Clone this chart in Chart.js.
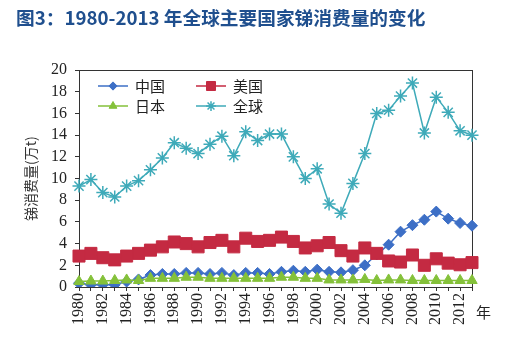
<!DOCTYPE html>
<html><head><meta charset="utf-8">
<script src="https://cdn.jsdelivr.net/npm/chart.js@4/dist/chart.umd.min.js"></script>
<style>html,body{margin:0;padding:0;background:#fff}#wrap{position:relative;width:521px;height:359px}</style>
</head><body><div id="wrap"><canvas id="c" width="521" height="359"></canvas></div>
<script>
const years = ['1980','1981','1982','1983','1984','1985','1986','1987','1988','1989','1990','1991','1992','1993','1994','1995','1996','1997','1998','1999','2000','2001','2002','2003','2004','2005','2006','2007','2008','2009','2010','2011','2012','2013'];
const china = [0.35,0.2,0.2,0.2,0.5,0.7,1.1,1.2,1.2,1.3, 1.3,1.2,1.3,1.1,1.3,1.3,1.2,1.4,1.5,1.4, 1.6,1.4,1.35,1.55,2.0,3.0,3.9,5.1,5.7,6.2, 6.95,6.3,5.9,5.65];
const usa = [2.85,3.1,2.7,2.5,2.85,3.1,3.4,3.7,4.15,4.0, 3.7,4.1,4.3,3.7,4.5,4.2,4.3,4.6,4.2,3.6, 3.8,4.1,3.35,2.85,3.6,3.1,2.4,2.3,2.95,2.0, 2.6,2.2,2.05,2.25];
const japan = [0.5,0.55,0.55,0.6,0.65,0.6,0.8,0.8,0.8,0.9, 0.9,0.8,0.8,0.8,0.8,0.8,0.8,0.9,0.9,0.8, 0.8,0.65,0.65,0.65,0.7,0.6,0.65,0.65,0.6,0.6, 0.6,0.6,0.6,0.6];
const world = [9.3,9.9,8.7,8.3,9.3,9.8,10.8,11.9,13.3,12.8, 12.3,13.15,13.9,12.1,14.3,13.5,14.1,14.1,12.0,10.0, 10.9,7.65,6.8,9.55,12.3,16.0,16.3,17.6,18.8,14.2, 17.5,16.1,14.4,14.0];
const seriesNames = ['中国','美国','日本','全球'];
const titleText = '图3：1980-2013 年全球主要国家锑消费量的变化';
const yTitle = '锑消费量(万t)';
const xUnit = '年';

const C_CN = '#3d6fc6', C_US = '#c42a42', C_JP = '#84c13a', C_W = '#3eaab9';
const AXIS = '#333';

const framePlugin = {
  id: 'frame',
  beforeDatasetsDraw(chart) {
    const a = chart.chartArea, ctx = chart.ctx;
    ctx.save();
    ctx.strokeStyle = AXIS; ctx.lineWidth = 1;
    ctx.strokeRect(Math.round(a.left) + 0.5, Math.round(a.top) + 0.5, Math.round(a.right - a.left), Math.round(a.bottom - a.top));
    ctx.restore();
  },
  afterDraw(chart) {
    const a = chart.chartArea, ctx = chart.ctx;
    ctx.save();
    ctx.fillStyle = '#222';
    ctx.font = '15px "Noto Sans CJK SC"';
    ctx.textBaseline = 'middle';
    ctx.textAlign = 'left';
    ctx.fillText(xUnit, a.right + 4, a.bottom + 25);
    const items = [
      {ds: 0, x: 98, y: 86},
      {ds: 1, x: 196, y: 86},
      {ds: 2, x: 98, y: 106},
      {ds: 3, x: 196, y: 106}
    ];
    items.forEach(it => {
      const d = chart.data.datasets[it.ds];
      ctx.strokeStyle = d.borderColor; ctx.lineWidth = 1.5;
      ctx.beginPath(); ctx.moveTo(it.x, it.y); ctx.lineTo(it.x + 30, it.y); ctx.stroke();
      ctx.save();
      ctx.fillStyle = d.pointBackgroundColor; ctx.strokeStyle = d.pointBorderColor; ctx.lineWidth = d.pointBorderWidth || 1;
      Chart.helpers.drawPoint(ctx, {pointStyle: d.pointStyle, rotation: 0, radius: d.pointRadius * 0.75, borderWidth: d.pointBorderWidth || 1}, it.x + 15, it.y);
      ctx.restore();
      ctx.fillStyle = '#222';
      ctx.font = '15px "Noto Sans CJK SC"';
      ctx.textBaseline = 'middle';
      ctx.fillText(d.label, it.x + 37, it.y);
    });
    ctx.restore();
  }
};

new Chart(document.getElementById('c'), {
  type: 'line',
  data: {
    labels: years,
    datasets: [
      {label: seriesNames[0], data: china, borderColor: C_CN, backgroundColor: C_CN, pointBackgroundColor: C_CN, pointBorderColor: C_CN, pointStyle: 'rectRot', pointRadius: 5.5, pointBorderWidth: 1, borderWidth: 1.5, order: 2},
      {label: seriesNames[1], data: usa, borderColor: C_US, backgroundColor: C_US, pointBackgroundColor: C_US, pointBorderColor: C_US, pointStyle: 'rect', pointRadius: 8.5, pointBorderWidth: 1, borderWidth: 1.5, order: 1},
      {label: seriesNames[2], data: japan, borderColor: C_JP, backgroundColor: C_JP, pointBackgroundColor: C_JP, pointBorderColor: C_JP, pointStyle: 'triangle', pointRadius: 6, pointBorderWidth: 1, borderWidth: 1.5, order: 0},
      {label: seriesNames[3], data: world, borderColor: C_W, backgroundColor: C_W, pointBackgroundColor: C_W, pointBorderColor: C_W, pointStyle: 'star', pointRadius: 6.5, pointBorderWidth: 1.5, borderWidth: 1.5, order: 3}
    ]
  },
  options: {
    responsive: false,
    animation: false,
    devicePixelRatio: 1,
    layout: {padding: {left: 16, right: 49, top: 0, bottom: 0}},
    plugins: {
      legend: {display: false},
      tooltip: {enabled: false},
      title: {display: true, text: titleText, align: 'start', color: '#1f4f8e',
        font: {family: 'Noto Sans CJK SC', size: 18.7, weight: 'bold'}, padding: {top: 6.5, bottom: 41.1}}
    },
    scales: {
      x: {
        offset: false,
        grid: {display: true, drawOnChartArea: false, drawTicks: true, tickLength: 4, color: AXIS},
        border: {display: true, color: AXIS},
        ticks: {autoSkip: false, maxRotation: 90, minRotation: 90, padding: 2, color: '#222',
          font: {family: 'Liberation Serif', size: 16},
          callback: function(v, i) { return i % 2 === 0 ? years[i] : ''; }},
        afterFit: s => { s.height = 72; }
      },
      y: {
        min: 0, max: 20,
        grid: {display: true, drawOnChartArea: false, drawTicks: true, tickLength: 4, color: AXIS},
        border: {display: true, color: AXIS},
        ticks: {stepSize: 2, autoSkip: false, padding: 8, color: '#222', font: {family: 'Liberation Serif', size: 16}},
        title: {display: true, text: yTitle, color: '#333', font: {family: 'Noto Sans CJK SC', size: 14}, padding: {top: 6, bottom: 0}},
        afterFit: s => { s.width = 63; }
      }
    }
  },
  plugins: [framePlugin]
});
</script></body></html>
